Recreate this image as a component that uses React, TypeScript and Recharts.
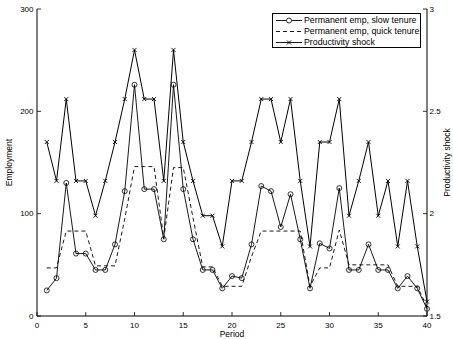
import { LineChart, Line, XAxis, YAxis, Legend } from 'recharts';

// periods 1..40
const periods = [
  1, 2, 3, 4, 5, 6, 7, 8, 9, 10, 11, 12, 13, 14, 15, 16, 17, 18, 19, 20,
  21, 22, 23, 24, 25, 26, 27, 28, 29, 30, 31, 32, 33, 34, 35, 36, 37, 38, 39, 40,
];
// Permanent emp, slow tenure (left axis)
const slowTenure = [
  25, 37, 130, 61, 61, 45, 45, 70, 122, 226, 124, 124, 75, 226, 124, 75, 45, 45, 27, 39,
  37, 70, 127, 122, 87, 119, 75, 27, 71, 66, 125, 45, 45, 70, 45, 45, 27, 39, 27, 7,
];
// Permanent emp, quick tenure (left axis)
const quickTenure = [
  47, 47, 83, 83, 83, 49, 49, 49, 95, 146, 146, 146, 76, 145, 145, 96, 48, 48, 29, 29,
  29, 58, 83, 83, 83, 83, 83, 29, 47, 47, 84, 50, 50, 50, 50, 50, 29, 29, 29, 9,
];
// Productivity shock (right axis)
const shock = [
  2.35, 2.16, 2.56, 2.16, 2.16, 1.99, 2.16, 2.35, 2.56, 2.8, 2.56, 2.56, 2.16, 2.8, 2.35, 2.16, 1.99, 1.99, 1.84, 2.16,
  2.16, 2.35, 2.56, 2.56, 2.35, 2.56, 2.16, 1.84, 2.35, 2.35, 2.56, 1.99, 2.16, 2.35, 1.99, 2.16, 1.84, 2.16, 1.84, 1.57,
];

const xTicks = [0, 5, 10, 15, 20, 25, 30, 35, 40];
const leftTicks = [0, 100, 200, 300];
const rightTicks = [1.5, 2, 2.5, 3];

const FONT = '"Liberation Sans", Arial, Helvetica, sans-serif';
const TICK_LEN = 4;

const data = periods.map((p, i) => ({
  period: p,
  slow: slowTenure[i],
  quick: quickTenure[i],
  shock: shock[i],
}));

// matlab style ticks: line goes inward, label outside
function BottomTick(props: any) {
  const { x, y, payload } = props;
  return (
    <g>
      <line x1={x} x2={x} y1={y} y2={y - TICK_LEN} stroke="#000" strokeWidth={0.8} />
      <text x={x} y={y + 9} textAnchor="middle" dominantBaseline="central" fontSize={8} fontFamily={FONT} fill="#000">
        {payload.value}
      </text>
    </g>
  );
}

function TopTick(props: any) {
  const { x, y } = props;
  return <line x1={x} x2={x} y1={y} y2={y + TICK_LEN} stroke="#000" strokeWidth={0.8} />;
}

function LeftTick(props: any) {
  const { x, y, payload } = props;
  return (
    <g>
      <line x1={x} x2={x + TICK_LEN} y1={y} y2={y} stroke="#000" strokeWidth={0.8} />
      <text x={x - 3.5} y={y} textAnchor="end" dominantBaseline="central" fontSize={8} fontFamily={FONT} fill="#000">
        {payload.value}
      </text>
    </g>
  );
}

function RightTick(props: any) {
  const { x, y, payload } = props;
  return (
    <g>
      <line x1={x} x2={x - TICK_LEN} y1={y} y2={y} stroke="#000" strokeWidth={0.8} />
      <text x={x + 2.5} y={y} textAnchor="start" dominantBaseline="central" fontSize={8} fontFamily={FONT} fill="#000">
        {payload.value}
      </text>
    </g>
  );
}

function CircleDot(props: any) {
  const { cx, cy, index } = props;
  return <circle key={`c${index}`} cx={cx} cy={cy} r={2.5} fill="none" stroke="#000" strokeWidth={0.8} />;
}

function CrossDot(props: any) {
  const { cx, cy, index } = props;
  const s = 2;
  return (
    <g key={`x${index}`}>
      <line x1={cx - s} y1={cy - s} x2={cx + s} y2={cy + s} stroke="#000" strokeWidth={0.9} />
      <line x1={cx - s} y1={cy + s} x2={cx + s} y2={cy - s} stroke="#000" strokeWidth={0.9} />
    </g>
  );
}

function VerticalLabel({ viewBox, value, dx }: any) {
  const cx = viewBox.x + dx;
  const cy = viewBox.y + viewBox.height / 2;
  return (
    <text
      x={cx}
      y={cy}
      transform={`rotate(-90 ${cx} ${cy})`}
      textAnchor="middle"
      dominantBaseline="central"
      fontSize={8.5}
      fontFamily={FONT}
      fill="#000"
    >
      {value}
    </text>
  );
}

const legendItems = [
  { name: 'Permanent emp, slow tenure', dash: undefined, marker: 'o' },
  { name: 'Permanent emp, quick tenure', dash: '4 3', marker: '' },
  { name: 'Productivity shock', dash: undefined, marker: 'x' },
];

function LegendBox() {
  return (
    <div
      style={{
        boxSizing: 'border-box',
        width: 149,
        height: 35,
        border: '1px solid #000',
        background: '#fff',
        paddingTop: 1,
        fontFamily: FONT,
        fontSize: 8.8,
        lineHeight: '11px',
        color: '#000',
      }}
    >
      {legendItems.map((it) => (
        <div key={it.name} style={{ display: 'flex', alignItems: 'center', height: 11, whiteSpace: 'nowrap' }}>
          <svg width={31} height={11} style={{ flex: 'none' }}>
            <line x1={3} x2={29} y1={5.5} y2={5.5} stroke="#000" strokeWidth={0.9} strokeDasharray={it.dash} />
            {it.marker === 'o' && <circle cx={16} cy={5.5} r={2.5} fill="#fff" stroke="#000" strokeWidth={0.8} />}
            {it.marker === 'x' && (
              <g stroke="#000" strokeWidth={0.9}>
                <line x1={14} y1={3.5} x2={18} y2={7.5} />
                <line x1={14} y1={7.5} x2={18} y2={3.5} />
              </g>
            )}
          </svg>
          <span>{it.name}</span>
        </div>
      ))}
    </div>
  );
}

export default function App() {
  return (
    <div style={{ position: 'absolute', left: 0, top: 0, width: 453, height: 339, background: '#fff' }}>
      <LineChart width={453} height={339} data={data} margin={{ top: 9, right: 0, bottom: 0, left: 0 }}>
        <XAxis
          xAxisId="b"
          dataKey="period"
          type="number"
          domain={[0, 40]}
          ticks={xTicks}
          height={23}
          tickSize={0}
          tickMargin={0}
          tickLine={false}
          axisLine={{ stroke: '#000', strokeWidth: 1 }}
          tick={<BottomTick />}
          interval={0}
          label={{ value: 'Period', position: 'insideBottom', offset: 2, fontSize: 8.5, fontFamily: FONT, fill: '#000' }}
        />
        <XAxis
          xAxisId="t"
          orientation="top"
          dataKey="period"
          type="number"
          domain={[0, 40]}
          ticks={xTicks}
          height={0}
          tickSize={0}
          tickMargin={0}
          tickLine={false}
          axisLine={{ stroke: '#000', strokeWidth: 1 }}
          tick={<TopTick />}
          interval={0}
        />
        <YAxis
          yAxisId="left"
          domain={[0, 300]}
          ticks={leftTicks}
          width={37}
          tickSize={0}
          tickMargin={0}
          tickLine={false}
          axisLine={{ stroke: '#000', strokeWidth: 1 }}
          tick={<LeftTick />}
          interval={0}
          label={<VerticalLabel value="Employment" dx={9} />}
        />
        <YAxis
          yAxisId="right"
          orientation="right"
          domain={[1.5, 3]}
          ticks={rightTicks}
          width={26}
          tickSize={0}
          tickMargin={0}
          tickLine={false}
          axisLine={{ stroke: '#000', strokeWidth: 1 }}
          tick={<RightTick />}
          interval={0}
          label={<VerticalLabel value="Productivity shock" dx={20} />}
        />
        <Legend
          layout="vertical"
          align="center"
          verticalAlign="middle"
          content={<LegendBox />}
          wrapperStyle={{ position: 'absolute', left: 272, top: 13, width: 149, height: 35 }}
        />
        <Line
          xAxisId="b"
          yAxisId="right"
          type="linear"
          dataKey="shock"
          name="Productivity shock"
          stroke="#000"
          strokeWidth={1}
          dot={<CrossDot />}
          isAnimationActive={false}
        />
        <Line
          xAxisId="b"
          yAxisId="left"
          type="linear"
          dataKey="slow"
          name="Permanent emp, slow tenure"
          stroke="#000"
          strokeWidth={0.9}
          dot={<CircleDot />}
          isAnimationActive={false}
        />
        <Line
          xAxisId="b"
          yAxisId="left"
          type="linear"
          dataKey="quick"
          name="Permanent emp, quick tenure"
          stroke="#000"
          strokeWidth={0.9}
          strokeDasharray="4 3"
          dot={false}
          isAnimationActive={false}
        />
      </LineChart>
    </div>
  );
}
